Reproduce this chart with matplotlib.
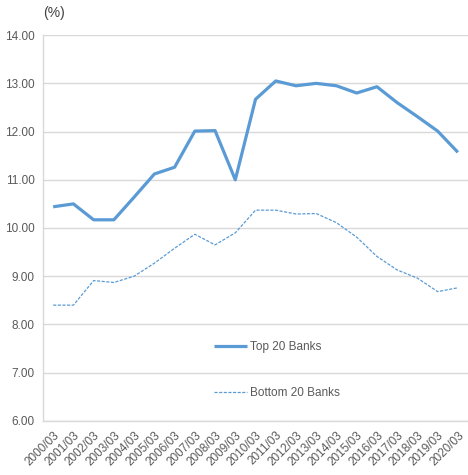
import matplotlib
matplotlib.use("Agg")
import matplotlib.pyplot as plt

plt.rcParams['font.family'] = ['Liberation Sans', 'DejaVu Sans']

years = [f"{y}/03" for y in range(2000, 2021)]
top20 = [10.44, 10.50, 10.17, 10.17, 10.64, 11.12, 11.26, 12.01, 12.02, 11.00,
         12.67, 13.05, 12.95, 13.00, 12.95, 12.80, 12.93, 12.60, 12.31, 12.01, 11.57]
bottom20 = [8.40, 8.40, 8.91, 8.87, 9.00, 9.27, 9.58, 9.87, 9.65, 9.90,
            10.37, 10.37, 10.29, 10.30, 10.11, 9.81, 9.41, 9.13, 8.96, 8.68, 8.76]
yticks = [6, 7, 8, 9, 10, 11, 12, 13, 14]

blue = '#5B9BD5'
grey = '#595959'

fig = plt.figure(figsize=(4.68, 4.75), dpi=100)
ax = fig.add_axes([0.092, 0.114, 0.908, 0.812])

x = range(len(years))
ax.plot(x, top20, color=blue, lw=2.3, label='Top 20 Banks', solid_capstyle='butt')
ax.plot(x, bottom20, color=blue, lw=0.9, ls=(0, (2.5, 1.2)), label='Bottom 20 Banks')

ax.set_xlim(-0.5, len(years) - 0.5)
ax.set_ylim(6, 14)
ax.set_yticks(yticks)
ax.set_yticklabels([f"{v:.2f}" for v in yticks], fontsize=8.5, color=grey)
ax.set_xticks(list(x))
ax.set_xticklabels(years, rotation=45, ha='right', rotation_mode='anchor',
                   fontsize=8.5, color=grey)
ax.tick_params(length=0, pad=6)

ax.grid(axis='y', color='#d9d9d9', lw=1)
ax.set_axisbelow(True)
for s in ['top', 'right']:
    ax.spines[s].set_visible(False)
for s in ['left', 'bottom']:
    ax.spines[s].set_color('#d9d9d9')
    ax.spines[s].set_linewidth(1)

ax.text(0.0, 1.04, '(%)', transform=ax.transAxes, fontsize=10, color='#404040',
        ha='left', va='bottom')

leg = ax.legend(loc='center', bbox_to_anchor=(0.55, 0.132), frameon=False,
                fontsize=8.5, labelspacing=2.9, handlelength=2.8, handletextpad=0.2)
for t in leg.get_texts():
    t.set_color(grey)

fig.savefig('out.png', dpi=100)
